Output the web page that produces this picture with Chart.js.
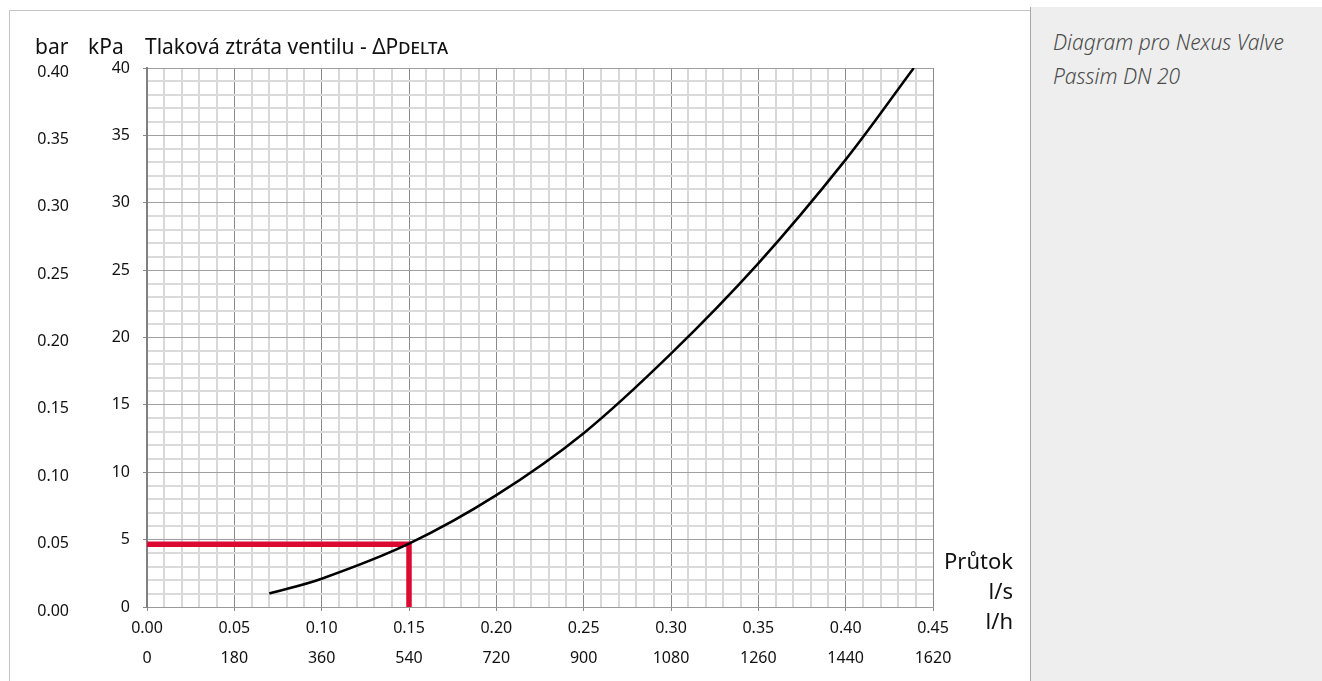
<!DOCTYPE html>
<html>
<head>
<meta charset="utf-8">
<script src="https://cdn.jsdelivr.net/npm/chart.js@4"></script>
<style>
  body { margin: 0; background: #fff; font-family: "Noto Sans", sans-serif; }
  #page { position: relative; width: 1322px; height: 681px; overflow: hidden; }
  .frame { position: absolute; left: 9px; top: 10px; width: 1021px; height: 680px;
           border-top: 1px solid #c4c4c4; border-left: 1px solid #c4c4c4; }
  .side { position: absolute; left: 1030px; top: 7px; width: 292px; height: 680px;
          background: #edeeed; border-left: 1px solid #a6a6a6; }
  .side p { margin: 0; position: absolute; left: 22px; top: 18px; font-style: italic;
            font-size: 21px; line-height: 34px; color: #4a4a4a; font-weight: 300; }
  .lbl { position: absolute; font-size: 21px; color: #111; white-space: nowrap; line-height: 1; }
  .flow { position: absolute; right: 309px; top: 545px; text-align: right; font-size: 22px;
          line-height: 30px; color: #111; }
  canvas { position: absolute; left: 0; top: 0; }
</style>
</head>
<body>
<div id="page">
  <div class="frame"></div>
  <div class="side"><p>Diagram pro Nexus Valve<br>Passim DN 20</p></div>
  <canvas id="chart" width="1030" height="681"></canvas>
  <div class="lbl" style="left:35px; top:36px;">bar</div>
  <div class="lbl" style="left:88px; top:36px;">kPa</div>
  <div class="lbl" style="left:145px; top:36px;">Tlaková ztráta ventilu - ΔP<span style="font-variant: small-caps;">delta</span></div>
  <div class="flow">Průtok<br>l/s<br>l/h</div>
</div>
<script>
// valve curve (flow l/s -> pressure loss kPa)
var flowLs = [0.07, 0.10, 0.15, 0.20, 0.25, 0.30, 0.35, 0.40, 0.439];
var lossKpa = [1.0, 2.1, 4.7, 8.3, 12.9, 18.8, 25.5, 33.2, 40.0];

// red reading lines for the marked working point
var markFlow = [0, 0.15, 0.15];
var markLoss = [4.65, 4.65, 0];

// axis ranges / tick labels
var lsTicks = ['0.00', '0.05', '0.10', '0.15', '0.20', '0.25', '0.30', '0.35', '0.40', '0.45'];
var lhTicks = [0, 180, 360, 540, 720, 900, 1080, 1260, 1440, 1620];
var kpaTicks = [0, 5, 10, 15, 20, 25, 30, 35, 40];
var barTicks = ['0.00', '0.05', '0.10', '0.15', '0.20', '0.25', '0.30', '0.35', '0.40'];

var tickFont = { family: 'Noto Sans', size: 16 };

function isMajorX(v) { return Math.round(v * 100) % 5 === 0; }
function isMajorY(v) { return Math.round(v) % 5 === 0; }

function toPoints(xs, ys) {
  return xs.map(function (x, i) { return { x: x, y: ys[i] }; });
}

var ctx = document.getElementById('chart').getContext('2d');

var myChart = new Chart(ctx, {
  type: 'line',
  data: {
    datasets: [
      {
        label: 'ΔP',
        data: toPoints(flowLs, lossKpa),
        borderColor: '#000',
        borderWidth: 2.5,
        pointRadius: 0,
        tension: 0.35,
        fill: false
      },
      {
        label: 'mark',
        data: toPoints(markFlow, markLoss),
        borderColor: '#dc0a30',
        borderWidth: 5.5,
        pointRadius: 0,
        tension: 0,
        borderCapStyle: 'butt',
        borderJoinStyle: 'miter',
        fill: false
      }
    ]
  },
  options: {
    responsive: false,
    animation: false,
    layout: { padding: { top: 68, right: 97, bottom: 6, left: 0 } },
    plugins: { legend: { display: false }, tooltip: { enabled: false } },
    scales: {
      x: {
        type: 'linear',
        position: 'bottom',
        weight: 0,
        min: 0,
        max: parseFloat(lsTicks[lsTicks.length - 1]),
        afterFit: function (s) { s.height = 38; },
        grid: {
          color: function (c) { return isMajorX(c.tick.value) ? '#8a8a8a' : '#d8d8d8'; },
          lineWidth: function (c) { return isMajorX(c.tick.value) ? 1 : 2; },
          tickColor: function (c) { return isMajorX(c.tick.value) ? '#8a8a8a' : 'rgba(0,0,0,0)'; },
          tickLength: 4
        },
        border: { color: '#999', width: 1 },
        ticks: {
          stepSize: 0.01,
          autoSkip: false,
          maxRotation: 0,
          padding: 8,
          color: '#111',
          font: tickFont,
          callback: function (v) { return isMajorX(v) ? lsTicks[Math.round(v * 20)] : ''; }
        }
      },
      xh: {
        type: 'linear',
        position: 'bottom',
        weight: 1,
        min: lhTicks[0],
        max: lhTicks[lhTicks.length - 1],
        afterFit: function (s) { s.height = 30; },
        grid: { display: false, drawTicks: false },
        border: { display: false },
        ticks: {
          stepSize: lhTicks[1] - lhTicks[0],
          autoSkip: false,
          maxRotation: 0,
          padding: 4,
          color: '#111',
          font: tickFont,
          callback: function (v) { return String(v); }
        }
      },
      y: {
        type: 'linear',
        position: 'left',
        weight: 0,
        min: kpaTicks[0],
        max: kpaTicks[kpaTicks.length - 1],
        afterFit: function (s) { s.width = 67; },
        grid: {
          color: function (c) { return isMajorY(c.tick.value) ? '#a0a0a0' : '#dadada'; },
          lineWidth: function (c) { return isMajorY(c.tick.value) ? 1 : 2; },
          tickColor: function (c) { return isMajorY(c.tick.value) ? '#8a8a8a' : 'rgba(0,0,0,0)'; },
          tickLength: 4
        },
        border: { color: '#808080', width: 2 },
        ticks: {
          stepSize: 1,
          autoSkip: false,
          padding: 13,
          color: '#111',
          font: tickFont,
          callback: function (v) { return isMajorY(v) ? String(v) : ''; }
        }
      },
      yBar: {
        type: 'linear',
        position: 'left',
        weight: 1,
        min: 0,
        max: parseFloat(barTicks[barTicks.length - 1]),
        afterFit: function (s) { s.width = 80; },
        grid: { display: false, drawTicks: false },
        border: { display: false },
        ticks: {
          stepSize: 0.05,
          autoSkip: false,
          padding: 11,
          labelOffset: 4,
          color: '#111',
          font: tickFont,
          callback: function (v) { return barTicks[Math.round(v * 20)]; }
        }
      }
    }
  }
});
</script>
</body>
</html>
